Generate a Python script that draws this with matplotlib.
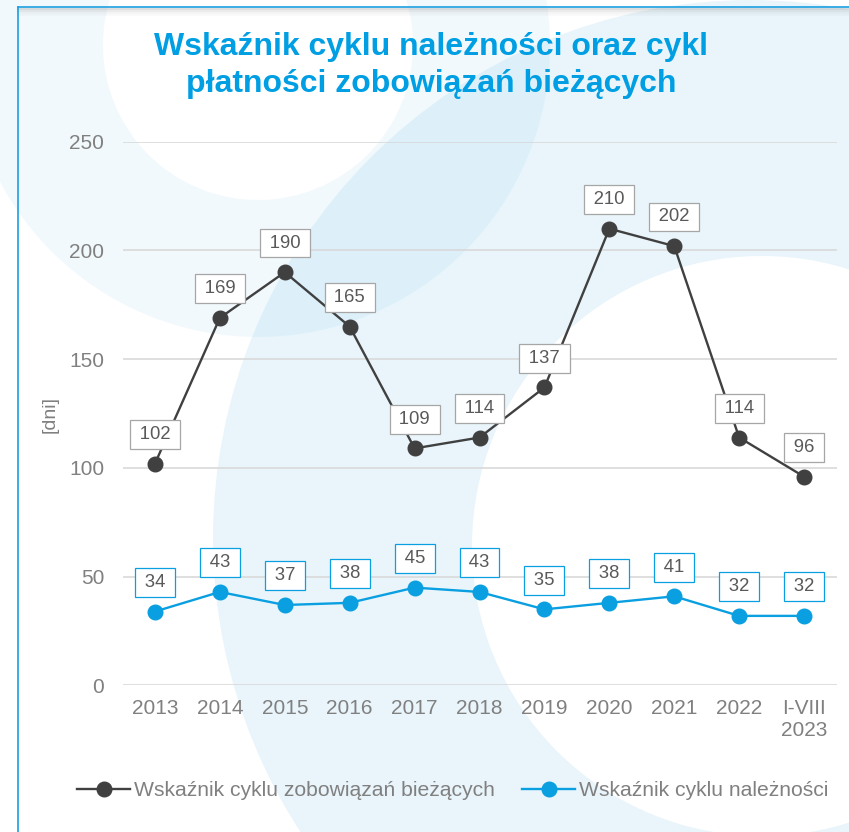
import matplotlib.pyplot as plt
from matplotlib.patches import Circle
import numpy as np

plt.rcParams['font.family'] = ['Liberation Sans', 'DejaVu Sans']

# Data
years = ["2013", "2014", "2015", "2016", "2017", "2018", "2019", "2020", "2021", "2022", "I-VIII\n2023"]
zobowiazania = [102, 169, 190, 165, 109, 114, 137, 210, 202, 114, 96]
naleznosci = [34, 43, 37, 38, 45, 43, 35, 38, 41, 32, 32]

title1 = "Wskaźnik cyklu należności oraz cykl"
title2 = "płatności zobowiązań bieżących"
label_dark = "Wskaźnik cyklu zobowiązań bieżących"
label_blue = "Wskaźnik cyklu należności"

dark = "#404040"
blue = "#0a9fe0"
grey_txt = "#808080"

fig = plt.figure(figsize=(8.49, 8.32), dpi=100)

# decorative background (pixel coordinates)
bg = fig.add_axes([0, 0, 1, 1])
bg.set_xlim(0, 849)
bg.set_ylim(832, 0)
bg.axis("off")
bg.add_patch(Circle((751, 538), 538, color="#0096d6", alpha=0.085, lw=0))
bg.add_patch(Circle((762, 546), 290, color="white", lw=0))
bg.add_patch(Circle((258, 45), 292, color="#0096d6", alpha=0.05, lw=0))
bg.add_patch(Circle((258, 45), 155, color="white", lw=0))
# frame
for k, a in enumerate([0.25, 0.15, 0.08, 0.04]):
    bg.plot([18, 849], [9 + 2 * k, 9 + 2 * k], color="#808080", alpha=a, lw=1.5)
bg.plot([18, 849], [7, 7], color="#1a9fe0", lw=1.2)
bg.plot([18, 18], [7, 832], color="#1a9fe0", lw=1.2)

# chart
ax = fig.add_axes([0.1443, 0.1761, 0.841, 0.6536])
ax.patch.set_alpha(0)
x = np.arange(len(years))
ax.plot(x, zobowiazania, color=dark, lw=1.7, marker="o", ms=10.5, label=label_dark, zorder=3)
ax.plot(x, naleznosci, color=blue, lw=1.7, marker="o", ms=10.5, label=label_blue, zorder=3)

for vals, edge in [(zobowiazania, "#a6a6a6"), (naleznosci, blue)]:
    for i, v in enumerate(vals):
        ax.annotate(f"\u2009{v}\u2009", (i, v), xytext=(0, 21), textcoords="offset points",
                    ha="center", va="center", fontsize=13.3, color="#595959", zorder=4,
                    bbox=dict(boxstyle="square,pad=0.32", fc="white", ec=edge, lw=0.9))

ax.set_xlim(-0.5, len(years) - 0.5)
ax.set_ylim(0, 250)
ax.set_yticks(range(0, 251, 50))
ax.set_xticks(x)
ax.set_xticklabels(years)
ax.grid(axis="y", color="#d9d9d9", lw=1.2)
ax.set_axisbelow(True)
for s in ax.spines.values():
    s.set_visible(False)
ax.tick_params(axis="y", length=0, pad=13.3, labelsize=15, labelcolor=grey_txt)
ax.tick_params(axis="x", length=0, pad=9.5, labelsize=15, labelcolor=grey_txt)

fig.text(50 / 849, 1 - 415 / 832, "[dni]", rotation=90, ha="center", va="center",
         fontsize=14, color=grey_txt)

fig.text(431 / 849, 1 - 55 / 832, title1, ha="center", va="baseline",
         fontsize=23, fontweight="bold", color="#009ee2")
fig.text(431 / 849, 1 - 92 / 832, title2, ha="center", va="baseline",
         fontsize=23, fontweight="bold", color="#009ee2")

fig.legend(loc="center", bbox_to_anchor=(453 / 849, 1 - 791 / 832), ncol=2, frameon=False,
           fontsize=15.2, handlelength=2.5, handletextpad=0.2, columnspacing=1.3,
           labelcolor=grey_txt)

fig.savefig("out.png", dpi=100)
